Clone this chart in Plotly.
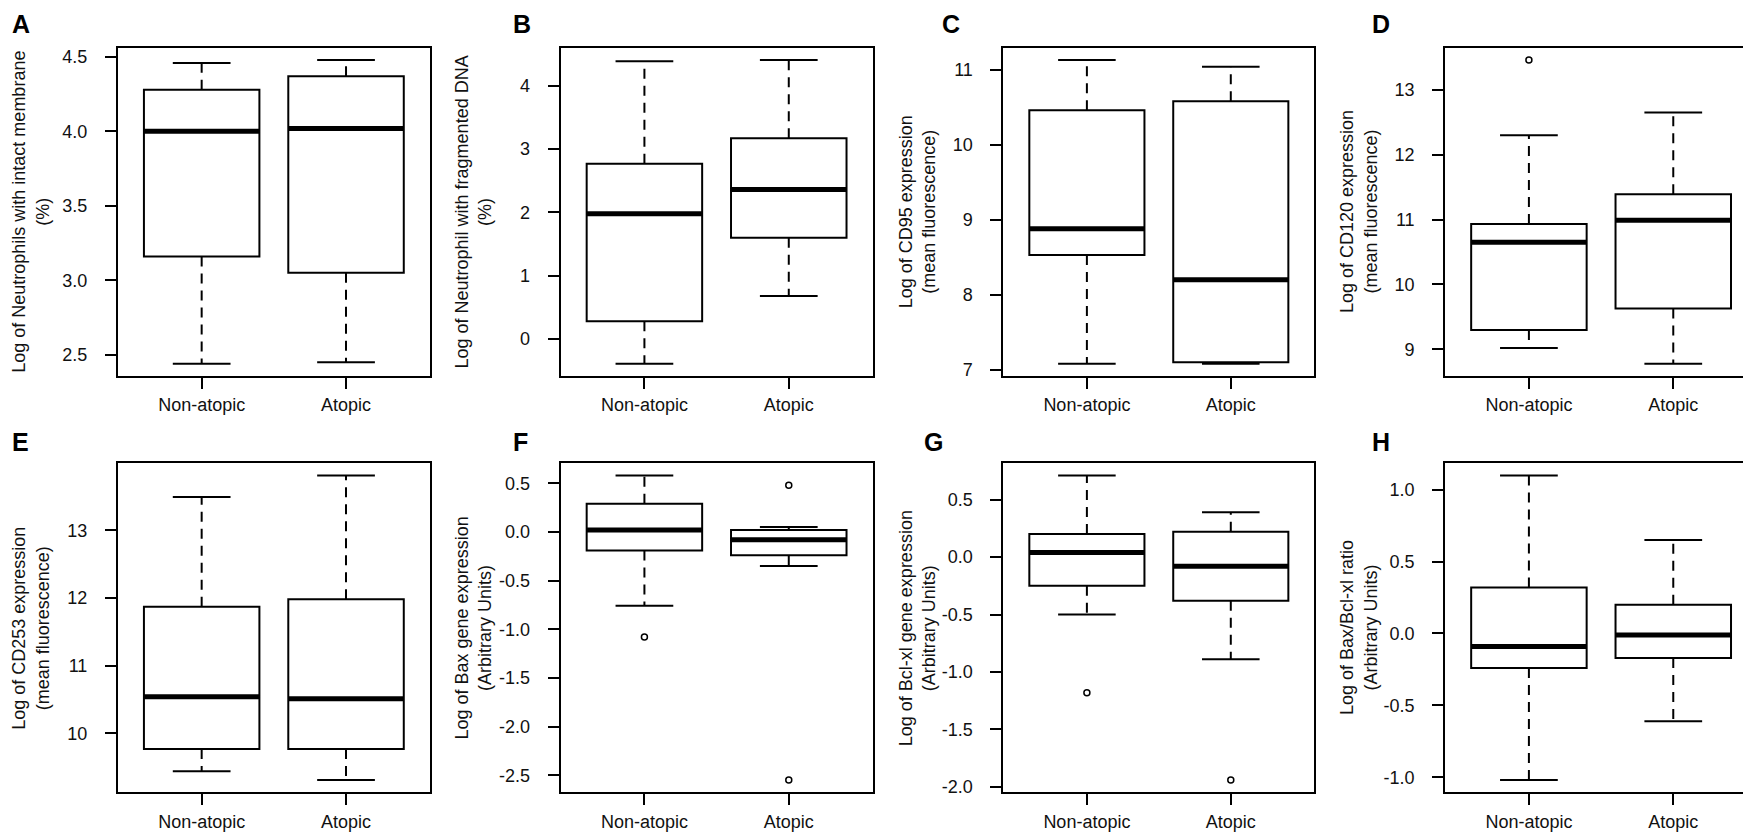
import plotly.graph_objects as go

groups = ["Non-atopic", "Atopic"]
panel_letters = ["A", "B", "C", "D", "E", "F", "G", "H"]
y_titles = [
    "Log of Neutrophils with intact membrane<br>(%)",
    "Log of Neutrophil with fragmented DNA<br>(%)",
    "Log of CD95 expression<br>(mean fluorescence)",
    "Log of CD120 expression<br>(mean fluorescence)",
    "Log of CD253 expression<br>(mean fluorescence)",
    "Log of Bax gene expression<br>(Arbitrary Units)",
    "Log of Bcl-xl gene expression<br>(Arbitrary Units)",
    "Log of Bax/Bcl-xl ratio<br>(Arbitrary Units)",
]

# box statistics, one value per panel A..H
non_atopic_lower = [2.44, -0.39, 7.08, 9.02, 9.44, -0.76, -0.50, -1.02]
non_atopic_q1 = [3.16, 0.28, 8.53, 9.30, 9.77, -0.19, -0.25, -0.24]
non_atopic_median = [4.00, 1.98, 8.88, 10.65, 10.54, 0.02, 0.04, -0.09]
non_atopic_q3 = [4.28, 2.77, 10.46, 10.93, 11.87, 0.29, 0.20, 0.32]
non_atopic_upper = [4.46, 4.39, 11.13, 12.30, 13.49, 0.58, 0.71, 1.10]
non_atopic_outliers = [[], [], [], [13.46], [], [-1.08], [-1.18], []]

atopic_lower = [2.45, 0.68, 7.08, 8.78, 9.31, -0.35, -0.89, -0.61]
atopic_q1 = [3.05, 1.60, 7.10, 9.63, 9.77, -0.24, -0.38, -0.17]
atopic_median = [4.02, 2.36, 8.20, 10.99, 10.51, -0.08, -0.08, -0.01]
atopic_q3 = [4.37, 3.17, 10.58, 11.39, 11.98, 0.02, 0.22, 0.20]
atopic_upper = [4.48, 4.41, 11.04, 12.65, 13.81, 0.05, 0.39, 0.65]
atopic_outliers = [[], [], [], [], [], [0.48, -2.55], [-1.94], []]

y_tick_values = [
    [2.5, 3.0, 3.5, 4.0, 4.5],
    [0, 1, 2, 3, 4],
    [7, 8, 9, 10, 11],
    [9, 10, 11, 12, 13],
    [10, 11, 12, 13],
    [-2.5, -2.0, -1.5, -1.0, -0.5, 0.0, 0.5],
    [-2.0, -1.5, -1.0, -0.5, 0.0, 0.5],
    [-1.0, -0.5, 0.0, 0.5, 1.0],
]
y_tick_labels = [
    ["2.5", "3.0", "3.5", "4.0", "4.5"],
    ["0", "1", "2", "3", "4"],
    ["7", "8", "9", "10", "11"],
    ["9", "10", "11", "12", "13"],
    ["10", "11", "12", "13"],
    ["-2.5", "-2.0", "-1.5", "-1.0", "-0.5", "0.0", "0.5"],
    ["-2.0", "-1.5", "-1.0", "-0.5", "0.0", "0.5"],
    ["-1.0", "-0.5", "0.0", "0.5", "1.0"],
]

W, H = 1751, 832
FONT = "Liberation Sans, Arial, sans-serif"
col_left = [110, 553, 996, 1438]
col_right = [422, 865, 1307, 1750]
row_top = [40, 458]
row_bottom = [370, 789]
title_x = [23, 466, 910, 1352]
letter_x = [[2, 503, 933, 1363], [2, 503, 915, 1363]]
letter_top = [0, 421]

fig = go.Figure()
layout = {}
annotations = []
pos = [1, 2]
half_box = 0.4
half_cap = 0.2

for i in range(8):
    r, c = divmod(i, 4)
    sfx = "" if i == 0 else str(i + 1)
    xa, ya = "x" + sfx, "y" + sfx
    lowers = [non_atopic_lower[i], atopic_lower[i]]
    q1s = [non_atopic_q1[i], atopic_q1[i]]
    meds = [non_atopic_median[i], atopic_median[i]]
    q3s = [non_atopic_q3[i], atopic_q3[i]]
    uppers = [non_atopic_upper[i], atopic_upper[i]]
    outs = [non_atopic_outliers[i], atopic_outliers[i]]

    # dashed whiskers
    wx, wy, cx, cy = [], [], [], []
    for p, lo, a, b, hi in zip(pos, lowers, q1s, q3s, uppers):
        wx += [p, p, None, p, p, None]
        wy += [b, hi, None, a, lo, None]
        cx += [p - half_cap, p + half_cap, None, p - half_cap, p + half_cap, None]
        cy += [hi, hi, None, lo, lo, None]
    fig.add_trace(go.Scatter(x=wx, y=wy, mode="lines", xaxis=xa, yaxis=ya,
                             line=dict(color="black", width=2, dash="10px,7px"),
                             hoverinfo="skip", showlegend=False))
    fig.add_trace(go.Scatter(x=cx, y=cy, mode="lines", xaxis=xa, yaxis=ya,
                             line=dict(color="black", width=2),
                             hoverinfo="skip", showlegend=False))
    # boxes
    fig.add_trace(go.Box(x=pos, q1=q1s, median=meds, q3=q3s,
                         lowerfence=q1s, upperfence=q3s,
                         width=2 * half_box, whiskerwidth=0,
                         fillcolor="white", line=dict(color="black", width=2),
                         boxpoints=False, xaxis=xa, yaxis=ya,
                         hoverinfo="skip", showlegend=False))
    # thick medians
    mx, my = [], []
    for p, m in zip(pos, meds):
        mx += [p - half_box, p + half_box, None]
        my += [m, m, None]
    fig.add_trace(go.Scatter(x=mx, y=my, mode="lines", xaxis=xa, yaxis=ya,
                             line=dict(color="black", width=5),
                             hoverinfo="skip", showlegend=False))
    # outliers
    ox, oy = [], []
    for p, o in zip(pos, outs):
        ox += [p] * len(o)
        oy += o
    if ox:
        fig.add_trace(go.Scatter(x=ox, y=oy, mode="markers", xaxis=xa, yaxis=ya,
                                 marker=dict(symbol="circle-open", size=6,
                                             color="black", line=dict(width=1.5)),
                                 hoverinfo="skip", showlegend=False))

    lo = min(lowers + outs[0] + outs[1])
    hi = max(uppers + outs[0] + outs[1])
    pad = 0.04 * (hi - lo)

    axis_common = dict(showline=True, mirror=True, linecolor="black", linewidth=2,
                       showgrid=False, zeroline=False, ticks="outside",
                       ticklen=11, tickwidth=2, tickcolor="black",
                       tickfont=dict(family=FONT, size=18, color="#111"))
    layout["xaxis" + sfx] = dict(axis_common, anchor=ya,
                                 domain=[col_left[c] / W, col_right[c] / W],
                                 range=[0.42, 2.58], tickvals=pos, ticktext=groups,
                                 ticklabelstandoff=1)
    layout["yaxis" + sfx] = dict(axis_common, anchor=xa,
                                 domain=[1 - row_bottom[r] / H, 1 - row_top[r] / H],
                                 range=[lo - pad, hi + pad],
                                 tickvals=y_tick_values[i], ticktext=y_tick_labels[i],
                                 ticklabelstandoff=14)

    annotations.append(dict(text=y_titles[i], xref="paper", yref="paper",
                            x=title_x[c] / W,
                            y=1 - (row_top[r] + row_bottom[r]) / 2 / H,
                            xanchor="center", yanchor="middle", textangle=-90,
                            showarrow=False,
                            font=dict(family=FONT, size=18, color="#111")))
    annotations.append(dict(text="<b>" + panel_letters[i] + "</b>", xref="paper",
                            yref="paper", x=letter_x[r][c] / W,
                            y=1 - letter_top[r] / H, xanchor="left", yanchor="top",
                            showarrow=False,
                            font=dict(family=FONT, size=25, color="black")))

fig.update_layout(**layout)
fig.update_layout(width=W, height=H, margin=dict(l=0, r=0, t=0, b=0),
                  paper_bgcolor="white", plot_bgcolor="white",
                  showlegend=False, annotations=annotations)

fig.write_html("out.html")
